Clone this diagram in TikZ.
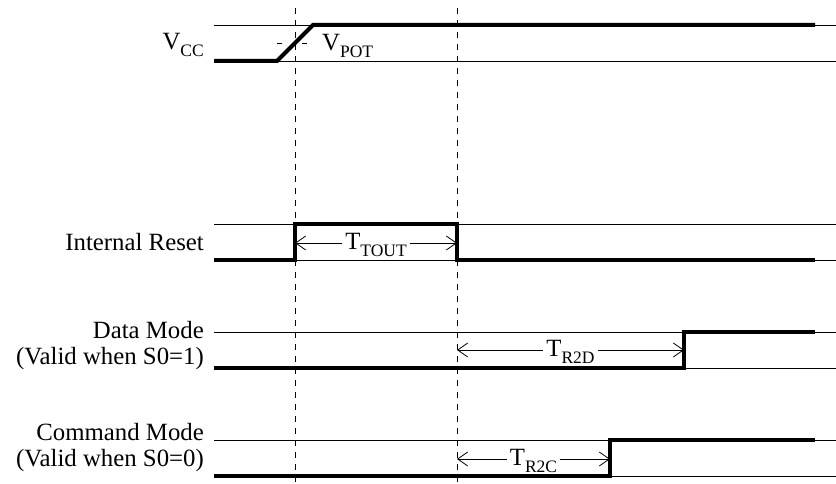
\documentclass[tikz,border=0pt]{standalone}
\usepackage{fontspec}
\setmainfont{Liberation Serif}
\usetikzlibrary{arrows.meta, positioning}
\newcommand{\lowtext}[1]{\raisebox{-7pt}{\fontsize{17.5}{17.5}\selectfont #1}}

\begin{document}
\begin{tikzpicture}[
            x = 1pt, y = -1pt,
            level/.style  = {line width=0.8pt},
            wave/.style   = {line width=4pt, line join=miter},
            marker/.style = {line width=0.8pt, dash pattern=on 6pt off 6pt},
            span/.style   = {line width=0.8pt,
                             {Straight Barb[length=10pt,width=14pt]}-{Straight Barb[length=10pt,width=14pt]}},
            every node/.style = {font=\fontsize{24.8}{26}\selectfont, inner sep=0pt},
            lbl/.style    = {anchor=base east},
            tag/.style    = {fill=white, inner xsep=3pt, inner ysep=1pt, anchor=base, yshift=-6pt}
                                 ]
            \useasboundingbox (0,0) rectangle (836,484);
            % signal names
            \node[lbl] (VCC)  at (204,50)  {V\lowtext{CC}};
            \node[lbl] (RST)  at (204,251) {Internal Reset};
            \node[lbl] (DAT)  at (204,338) {Data Mode};
            \node[lbl] (DATv) at (204,364) {(Valid when S0=1)};
            \node[lbl] (CMD)  at (204,440) {Command Mode};
            \node[lbl] (CMDv) at (204,466) {(Valid when S0=0)};
            %
            \foreach \hi/\lo in {25/61, 224/260, 332/368, 440/476}
                \draw[level] (214,\hi) -- (836,\hi) (214,\lo) -- (836,\lo);
            %
            \draw[marker] (295,8) -- (295,484)
                          (457,8) -- (457,484);
            \draw[level, dash pattern=on 5pt off 20pt] (277,43) -- (308,43);
            \node[anchor=base west] (POT) at (322,51) {V\lowtext{POT}};
            %
            \draw[wave] (214,61) -- (277,61) -- (313,25) -- (815,25);
            \draw[wave] (214,260) -- (295,260) -- (295,224) -- (457,224) -- (457,260) -- (815,260);
            \draw[wave] (214,368) -- (684,368) -- (684,332) -- (815,332);
            \draw[wave] (214,476) -- (610,476) -- (610,440) -- (815,440);
            %
            \coordinate (TOa) at (295,243);
            \coordinate (TOb) at (457,243);
            \coordinate (RDa) at (457,350);
            \coordinate (RDb) at (684,350);
            \coordinate (RCa) at (457,459);
            \coordinate (RCb) at (610,459);
            \draw[span] (TOa) -- (TOb) node[tag, pos=0.5] (TOUT) {T\lowtext{TOUT}};
            \draw[span] (RDa) -- (RDb) node[tag, pos=0.5] (R2D)  {T\lowtext{R2D}};
            \draw[span] (RCa) -- (RCb) node[tag, pos=0.5] (R2C)  {T\lowtext{R2C}};
\end{tikzpicture}
\end{document}
